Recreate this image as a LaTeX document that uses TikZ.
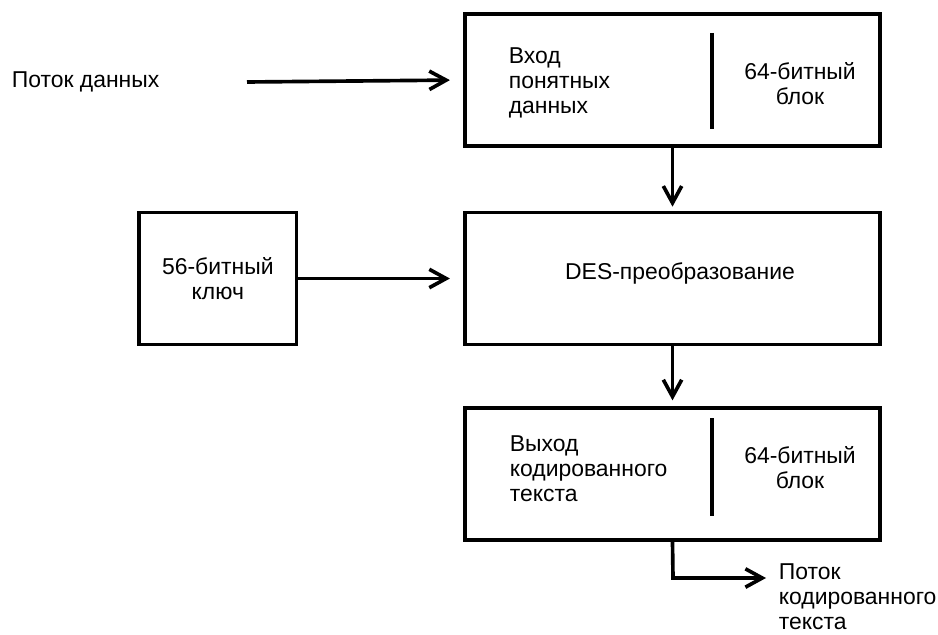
\documentclass[tikz,border=0pt]{standalone}
\usepackage{fontspec}
\setmainfont{Liberation Sans}
\usetikzlibrary{arrows.meta,positioning,calc}

\begin{document}
\begin{tikzpicture}[x=0.025cm,y=-0.025cm,line width=2.6pt,
    every node/.style={font=\fontsize{16.3}{17.8}\selectfont,inner sep=0pt}]
    \tikzset{box/.style={draw,minimum width=10.375cm,minimum height=3.3cm},
      keybox/.style={draw,minimum width=3.93cm,minimum height=3.3cm,align=center},
      flow/.style={-{Straight Barb[length=4.2mm,width=4.6mm]}}}
    \useasboundingbox (0,0) rectangle (938,635);
    \node[box] (inbox) at (672.5,80) {};
    \node[box,below=1.57cm of inbox] (des) {};
    \node[box,below=1.5cm of des] (outbox) {};
    \node[keybox,left=4.12cm of des] (key) {56-битный\\ключ};
    \node at (680,273) (destxt) {DES-преобразование};
    \node[anchor=west,align=left] (intxt) at (507,83) {Вход\\понятных\\данных};
    \node[align=center] (inblk) at (800,84) {64-битный\\блок};
    \node[anchor=west,align=left] (outtxt) at (508,469) {Выход\\кодированного\\текста};
    \node[align=center] (outblk) at (800,468) {64-битный\\блок};
    \draw (712,33) -- (712,129);
    \draw (712,418) -- (712,516);
    \node[anchor=west] (src) at (10,82) {Поток данных};
    \node[anchor=west,align=left] (dst) at (777,597) {Поток\\кодированного\\текста};
    \coordinate (srcend) at (247,82);
    \coordinate (bend) at (673,578);
    \coordinate (dstend) at (766,578);
    \draw[flow,shorten >=0.33cm] (srcend) -- (inbox.west);
    \draw[flow,shorten >=0.33cm] (key) -- (des);
    \draw[flow,shorten >=0.1cm] (inbox) -- (des);
    \draw[flow,shorten >=0.15cm] (des) -- (outbox);
    \draw[flow] (outbox.south) -- (bend) -- (dstend);
  \end{tikzpicture}
\end{document}
